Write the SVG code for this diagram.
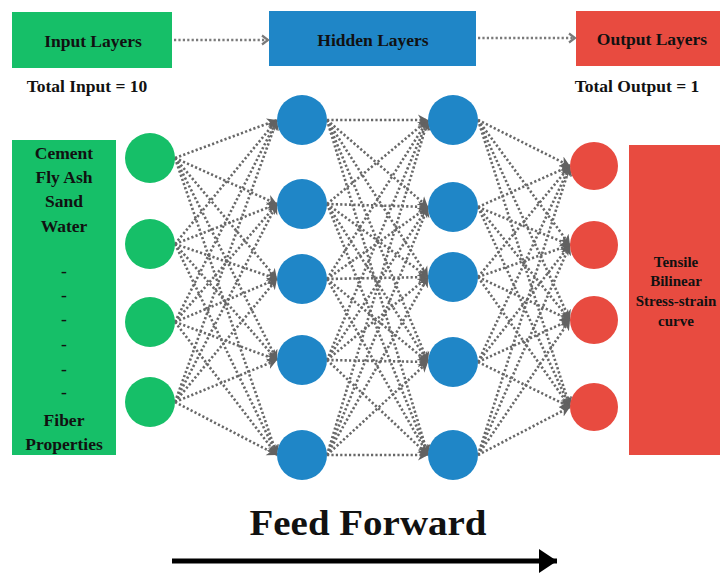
<svg xmlns="http://www.w3.org/2000/svg" width="720" height="573" viewBox="0 0 720 573">
<defs>
<style>
.t{font-family:"Liberation Serif","Times New Roman",serif;font-weight:bold;fill:#111;text-anchor:middle}
.c{stroke:#686868;stroke-width:2.6;stroke-dasharray:2.2 2.2;fill:none;marker-end:url(#ah)}
.hc{stroke:#7a7a7a;stroke-width:2.4;stroke-dasharray:2.2 2.2;fill:none;marker-end:url(#chev)}
.g{fill:#16bf68}.b{fill:#1f86c7}.r{fill:#e84b40}
</style>
<marker id="ah" markerUnits="userSpaceOnUse" markerWidth="12" markerHeight="12" refX="10" refY="6" orient="auto"><path d="M0,0.5 L10,6 L0,11.5 L3,6 z" fill="#626262"/></marker>
<marker id="chev" markerUnits="userSpaceOnUse" markerWidth="10" markerHeight="12" refX="8" refY="6" orient="auto"><path d="M2,1.5 L8,6 L2,10.5" fill="none" stroke="#7a7a7a" stroke-width="2.2"/></marker>
<marker id="big" markerUnits="userSpaceOnUse" markerWidth="20" markerHeight="26" refX="18" refY="13" orient="auto"><path d="M0,1 L18,13 L0,25 z" fill="#000"/></marker>
</defs>
<rect width="720" height="573" fill="#fff"/>

<g id="input-layers-header"><rect x="12" y="12" width="160" height="56" class="g"/><text x="93" y="47" class="t" font-size="17.5">Input Layers</text></g>
<g id="hidden-layers-header"><rect x="269" y="11" width="207" height="55" class="b"/><text x="373" y="46" class="t" font-size="17.5">Hidden Layers</text></g>
<g id="output-layers-header"><rect x="576" y="11" width="144" height="55" class="r"/><text x="652" y="45" class="t" font-size="17.5">Output Layers</text></g>
<g id="total-input"><text x="87" y="92" class="t" font-size="17.5">Total Input = 10</text></g>
<g id="total-output"><text x="637" y="92" class="t" font-size="17.5">Total Output = 1</text></g>

<g id="input-box"><rect x="12" y="140" width="104" height="315" class="g"/>
<text class="t" font-size="17.5" x="64"><tspan x="64" y="159">Cement</tspan><tspan x="64" y="183">Fly Ash</tspan><tspan x="64" y="207">Sand</tspan><tspan x="64" y="232">Water</tspan><tspan x="64" y="277">-</tspan><tspan x="64" y="301">-</tspan><tspan x="64" y="325">-</tspan><tspan x="64" y="350">-</tspan><tspan x="64" y="375">-</tspan><tspan x="64" y="398">-</tspan><tspan x="64" y="426">Fiber</tspan><tspan x="64" y="450">Properties</tspan></text></g>

<g id="output-box"><rect x="629" y="145" width="95" height="310" class="r"/>
<text class="t" font-size="15"><tspan x="676" y="267">Tensile</tspan><tspan x="676" y="286">Bilinear</tspan><tspan x="676" y="306">Stress-strain</tspan><tspan x="676" y="326">curve</tspan></text></g>

<g id="connectors">
<line class="hc" x1="174" y1="40" x2="268" y2="40"/>
<line class="hc" x1="478" y1="38" x2="575" y2="38"/>
<line class="c" x1="175" y1="158" x2="277" y2="120"/><line class="c" x1="175" y1="158" x2="277" y2="204"/><line class="c" x1="175" y1="158" x2="277" y2="279"/><line class="c" x1="175" y1="158" x2="277" y2="360"/><line class="c" x1="175" y1="158" x2="277" y2="455"/>
<line class="c" x1="175" y1="244" x2="277" y2="120"/><line class="c" x1="175" y1="244" x2="277" y2="204"/><line class="c" x1="175" y1="244" x2="277" y2="279"/><line class="c" x1="175" y1="244" x2="277" y2="360"/><line class="c" x1="175" y1="244" x2="277" y2="455"/>
<line class="c" x1="175" y1="322" x2="277" y2="120"/><line class="c" x1="175" y1="322" x2="277" y2="204"/><line class="c" x1="175" y1="322" x2="277" y2="279"/><line class="c" x1="175" y1="322" x2="277" y2="360"/><line class="c" x1="175" y1="322" x2="277" y2="455"/>
<line class="c" x1="175" y1="402" x2="277" y2="120"/><line class="c" x1="175" y1="402" x2="277" y2="204"/><line class="c" x1="175" y1="402" x2="277" y2="279"/><line class="c" x1="175" y1="402" x2="277" y2="360"/><line class="c" x1="175" y1="402" x2="277" y2="455"/>
<line class="c" x1="327" y1="120" x2="428" y2="120"/><line class="c" x1="327" y1="120" x2="428" y2="207"/><line class="c" x1="327" y1="120" x2="428" y2="277"/><line class="c" x1="327" y1="120" x2="428" y2="362"/><line class="c" x1="327" y1="120" x2="428" y2="455"/>
<line class="c" x1="327" y1="204" x2="428" y2="120"/><line class="c" x1="327" y1="204" x2="428" y2="207"/><line class="c" x1="327" y1="204" x2="428" y2="277"/><line class="c" x1="327" y1="204" x2="428" y2="362"/><line class="c" x1="327" y1="204" x2="428" y2="455"/>
<line class="c" x1="327" y1="279" x2="428" y2="120"/><line class="c" x1="327" y1="279" x2="428" y2="207"/><line class="c" x1="327" y1="279" x2="428" y2="277"/><line class="c" x1="327" y1="279" x2="428" y2="362"/><line class="c" x1="327" y1="279" x2="428" y2="455"/>
<line class="c" x1="327" y1="360" x2="428" y2="120"/><line class="c" x1="327" y1="360" x2="428" y2="207"/><line class="c" x1="327" y1="360" x2="428" y2="277"/><line class="c" x1="327" y1="360" x2="428" y2="362"/><line class="c" x1="327" y1="360" x2="428" y2="455"/>
<line class="c" x1="327" y1="455" x2="428" y2="120"/><line class="c" x1="327" y1="455" x2="428" y2="207"/><line class="c" x1="327" y1="455" x2="428" y2="277"/><line class="c" x1="327" y1="455" x2="428" y2="362"/><line class="c" x1="327" y1="455" x2="428" y2="455"/>
<line class="c" x1="478" y1="120" x2="570" y2="166"/><line class="c" x1="478" y1="120" x2="570" y2="245"/><line class="c" x1="478" y1="120" x2="570" y2="320"/><line class="c" x1="478" y1="120" x2="570" y2="407"/>
<line class="c" x1="478" y1="207" x2="570" y2="166"/><line class="c" x1="478" y1="207" x2="570" y2="245"/><line class="c" x1="478" y1="207" x2="570" y2="320"/><line class="c" x1="478" y1="207" x2="570" y2="407"/>
<line class="c" x1="478" y1="277" x2="570" y2="166"/><line class="c" x1="478" y1="277" x2="570" y2="245"/><line class="c" x1="478" y1="277" x2="570" y2="320"/><line class="c" x1="478" y1="277" x2="570" y2="407"/>
<line class="c" x1="478" y1="362" x2="570" y2="166"/><line class="c" x1="478" y1="362" x2="570" y2="245"/><line class="c" x1="478" y1="362" x2="570" y2="320"/><line class="c" x1="478" y1="362" x2="570" y2="407"/>
<line class="c" x1="478" y1="455" x2="570" y2="166"/><line class="c" x1="478" y1="455" x2="570" y2="245"/><line class="c" x1="478" y1="455" x2="570" y2="320"/><line class="c" x1="478" y1="455" x2="570" y2="407"/>
<line x1="172" y1="561" x2="557" y2="561" stroke="#000" stroke-width="5" marker-end="url(#big)"/>
</g>

<g id="in1"><circle cx="150" cy="158" r="25" class="g"/></g>
<g id="in2"><circle cx="150" cy="244" r="25" class="g"/></g>
<g id="in3"><circle cx="150" cy="322" r="25" class="g"/></g>
<g id="in4"><circle cx="150" cy="402" r="25" class="g"/></g>
<g id="h1a"><circle cx="302" cy="120" r="25" class="b"/></g>
<g id="h1b"><circle cx="302" cy="204" r="25" class="b"/></g>
<g id="h1c"><circle cx="302" cy="279" r="25" class="b"/></g>
<g id="h1d"><circle cx="302" cy="360" r="25" class="b"/></g>
<g id="h1e"><circle cx="302" cy="455" r="25" class="b"/></g>
<g id="h2a"><circle cx="453" cy="120" r="25" class="b"/></g>
<g id="h2b"><circle cx="453" cy="207" r="25" class="b"/></g>
<g id="h2c"><circle cx="453" cy="277" r="25" class="b"/></g>
<g id="h2d"><circle cx="453" cy="362" r="25" class="b"/></g>
<g id="h2e"><circle cx="453" cy="455" r="25" class="b"/></g>
<g id="o1"><circle cx="594" cy="166" r="24" class="r"/></g>
<g id="o2"><circle cx="594" cy="245" r="24" class="r"/></g>
<g id="o3"><circle cx="594" cy="320" r="24" class="r"/></g>
<g id="o4"><circle cx="594" cy="407" r="24" class="r"/></g>

<g id="feed-forward"><text x="368" y="535" class="t" font-size="35" textLength="237" lengthAdjust="spacingAndGlyphs">Feed Forward</text></g>
</svg>
